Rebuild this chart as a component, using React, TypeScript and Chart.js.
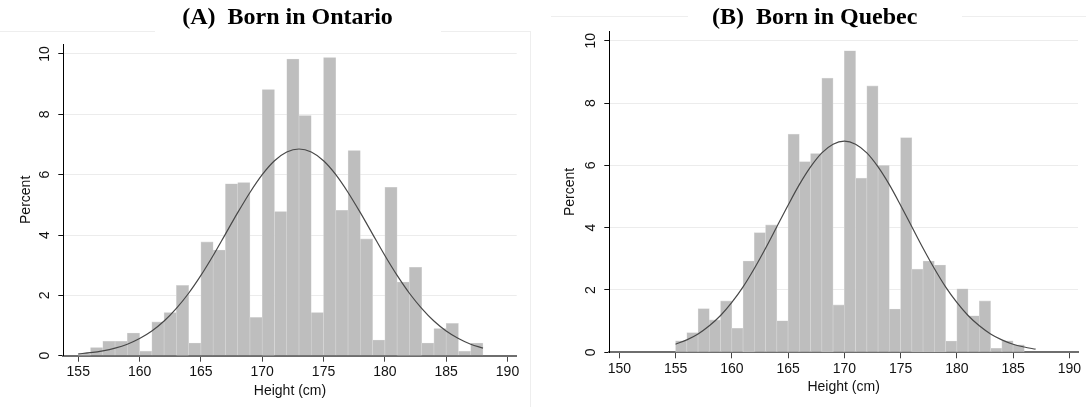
import React, { useEffect, useRef } from "react";
import { Chart, registerables } from "chart.js";

Chart.register(...registerables);

// ---------- data: panel A (Born in Ontario) ----------
const binsA = [155, 156, 157, 158, 159, 160, 161, 162, 163, 164, 165, 166, 167, 168, 169, 170, 171, 172, 173, 174, 175, 176, 177, 178, 179, 180, 181, 182, 183, 184, 185, 186, 187];
const pctA = [0.05, 0.27, 0.48, 0.48, 0.75, 0.15, 1.12, 1.43, 2.33, 0.42, 3.77, 3.5, 5.7, 5.74, 1.27, 8.82, 4.78, 9.83, 7.96, 1.43, 9.88, 4.82, 6.8, 3.87, 0.52, 5.58, 2.44, 2.93, 0.42, 0.9, 1.07, 0.15, 0.42];
const curveXA = [155, 156, 157, 158, 159, 160, 161, 162, 163, 164, 165, 166, 167, 168, 169, 170, 171, 172, 173, 174, 175, 176, 177, 178, 179, 180, 181, 182, 183, 184, 185, 186, 187, 188];
const curveYA = [0.06, 0.1, 0.16, 0.25, 0.38, 0.57, 0.82, 1.15, 1.57, 2.07, 2.66, 3.32, 4.03, 4.74, 5.41, 6.0, 6.46, 6.75, 6.85, 6.75, 6.46, 6.0, 5.41, 4.74, 4.03, 3.32, 2.66, 2.07, 1.57, 1.15, 0.82, 0.57, 0.38, 0.25];
const xTicksA = [155, 160, 165, 170, 175, 180, 185, 190];

// ---------- data: panel B (Born in Quebec) ----------
const binsB = [155, 156, 157, 158, 159, 160, 161, 162, 163, 164, 165, 166, 167, 168, 169, 170, 171, 172, 173, 174, 175, 176, 177, 178, 179, 180, 181, 182, 183, 184, 185];
const pctB = [0.37, 0.63, 1.4, 1.04, 1.65, 0.77, 2.93, 3.84, 4.09, 1.01, 7.0, 6.12, 6.38, 8.8, 1.52, 9.68, 5.59, 8.55, 6.0, 1.39, 6.89, 2.67, 2.93, 2.8, 0.36, 2.04, 1.17, 1.65, 0.13, 0.37, 0.24];
const curveXB = [155, 156, 157, 158, 159, 160, 161, 162, 163, 164, 165, 166, 167, 168, 169, 170, 171, 172, 173, 174, 175, 176, 177, 178, 179, 180, 181, 182, 183, 184, 185, 186, 187];
const curveYB = [0.26, 0.4, 0.59, 0.85, 1.18, 1.6, 2.1, 2.69, 3.34, 4.03, 4.72, 5.38, 5.95, 6.4, 6.68, 6.78, 6.68, 6.4, 5.95, 5.38, 4.72, 4.03, 3.34, 2.69, 2.1, 1.6, 1.18, 0.85, 0.59, 0.4, 0.26, 0.17, 0.1];
const xTicksB = [150, 155, 160, 165, 170, 175, 180, 185, 190];

const yTicks = [0, 2, 4, 6, 8, 10];
const xTitle = "Height (cm)";
const yTitle = "Percent";

const SANS = '"Liberation Sans", Arial, sans-serif';
const SERIF = '"Liberation Serif", "Times New Roman", serif';

const panelTitle = {
  id: "panelTitle",
  afterDraw(chart: any, _args: any, opts: any) {
    const ctx = chart.ctx;
    ctx.save();
    ctx.font = `bold ${opts.size}px ${SERIF}`;
    ctx.fillStyle = "#000";
    ctx.textAlign = "center";
    ctx.textBaseline = "alphabetic";
    ctx.fillText(opts.text, opts.x, opts.y);
    ctx.restore();
  },
};

type Panel = {
  title: string;
  bins: number[];
  pct: number[];
  curveX: number[];
  curveY: number[];
  xTicks: number[];
  xMin: number;
  xMax: number;
  yMax: number;
  width: number;
  padRight: number;
  top: number;
  yAxisW: number;
  xAxisH: number;
  titleX: number;
  yTitlePad: number;
  xTitlePad: number;
};

function makeConfig(p: Panel): any {
  const tickFont = { family: SANS, size: 14 };
  return {
    type: "bar",
    data: {
      datasets: [
        {
          type: "line",
          data: p.curveX.map((x, i) => ({ x, y: p.curveY[i] })),
          borderColor: "#484848",
          borderWidth: 1.2,
          pointRadius: 0,
          tension: 0.4,
          cubicInterpolationMode: "monotone",
          fill: false,
          order: 0,
        },
        {
          type: "bar",
          data: p.bins.map((b, i) => ({ x: b + 0.5, y: p.pct[i] })),
          backgroundColor: "rgb(190,190,190)",
          borderColor: "rgb(216,216,216)",
          borderWidth: 0.6,
          barPercentage: 1,
          categoryPercentage: 1,
          order: 1,
        },
      ],
    },
    options: {
      animation: false,
      responsive: false,
      devicePixelRatio: 1,
      layout: { padding: { left: 0, right: p.padRight, top: p.top, bottom: 0 } },
      plugins: {
        legend: { display: false },
        tooltip: { enabled: false },
        title: { display: false },
        panelTitle: { text: p.title, x: p.titleX, y: 24, size: 24 },
      },
      scales: {
        x: {
          type: "linear",
          min: p.xMin,
          max: p.xMax,
          offset: false,
          afterBuildTicks: (s: any) => {
            s.ticks = p.xTicks.map((v) => ({ value: v }));
          },
          afterFit: (s: any) => {
            s.height = p.xAxisH;
          },
          grid: { offset: false, drawOnChartArea: false, tickLength: 6, tickColor: "#444", color: "#444", lineWidth: 1 },
          border: { color: "#6e6e6e", width: 2 },
          ticks: { padding: 2.5, color: "#111", font: tickFont, maxRotation: 0, minRotation: 0, autoSkip: false },
          title: { display: true, text: xTitle, color: "#111", font: tickFont, padding: { top: 0, bottom: p.xTitlePad } },
        },
        y: {
          type: "linear",
          min: 0,
          max: p.yMax,
          afterBuildTicks: (s: any) => {
            s.ticks = yTicks.map((v) => ({ value: v }));
          },
          afterFit: (s: any) => {
            s.width = p.yAxisW;
          },
          grid: { color: "#ececec", tickColor: "#111", tickLength: 5, lineWidth: 1 },
          border: { color: "#000", width: 1 },
          ticks: { minRotation: 90, maxRotation: 90, crossAlign: "center", padding: 5.3, color: "#111", font: tickFont },
          title: { display: true, text: yTitle, color: "#111", font: tickFont, padding: { top: p.yTitlePad, bottom: 0 } },
        },
      },
    },
    plugins: [panelTitle],
  };
}

const panelA: Panel = {
  title: "(A)  Born in Ontario",
  bins: binsA,
  pct: pctA,
  curveX: curveXA,
  curveY: curveYA,
  xTicks: xTicksA,
  xMin: 153.78,
  xMax: 190.75,
  yMax: 10.33,
  width: 575,
  padRight: 58.3,
  top: 44,
  yAxisW: 63.3,
  xAxisH: 51.3,
  titleX: 287.5,
  yTitlePad: 18.2,
  xTitlePad: 7.6,
};

const panelB: Panel = {
  title: "(B)  Born in Quebec",
  bins: binsB,
  pct: pctB,
  curveX: curveXB,
  curveY: curveYB,
  xTicks: xTicksB,
  xMin: 149.11,
  xMax: 190.77,
  yMax: 10.29,
  width: 543,
  padRight: 8,
  top: 31.7,
  yAxisW: 66.3,
  xAxisH: 54.7,
  titleX: 271.7,
  yTitlePad: 19.2,
  xTitlePad: 11.6,
};

function PanelChart({ panel, left }: { panel: Panel; left: number }) {
  const ref = useRef<HTMLCanvasElement | null>(null);
  useEffect(() => {
    if (!ref.current) return;
    const chart = new Chart(ref.current, makeConfig(panel));
    return () => chart.destroy();
  }, [panel]);
  return (
    <canvas
      ref={ref}
      width={panel.width}
      height={407}
      style={{ position: "absolute", left, top: 0, width: panel.width, height: 407 }}
    />
  );
}

const faint = "#eeeeee";

export default function App() {
  useEffect(() => {
    document.body.style.margin = "0";
    document.body.style.background = "#fff";
  }, []);
  return (
    <div style={{ position: "relative", width: 1086, height: 407, background: "#fff", overflow: "hidden" }}>
      <div style={{ position: "absolute", left: 0, top: 31, width: 155, height: 0, borderTop: `1px solid ${faint}` }} />
      <div style={{ position: "absolute", left: 441, top: 31, width: 90, height: 0, borderTop: `1px solid ${faint}` }} />
      <div style={{ position: "absolute", left: 530, top: 31, width: 0, height: 376, borderLeft: `1px solid ${faint}` }} />
      <div style={{ position: "absolute", left: 551, top: 16, width: 137, height: 0, borderTop: `1px solid ${faint}` }} />
      <div style={{ position: "absolute", left: 962, top: 16, width: 124, height: 0, borderTop: `1px solid ${faint}` }} />
      <PanelChart panel={panelA} left={0} />
      <PanelChart panel={panelB} left={543} />
    </div>
  );
}
